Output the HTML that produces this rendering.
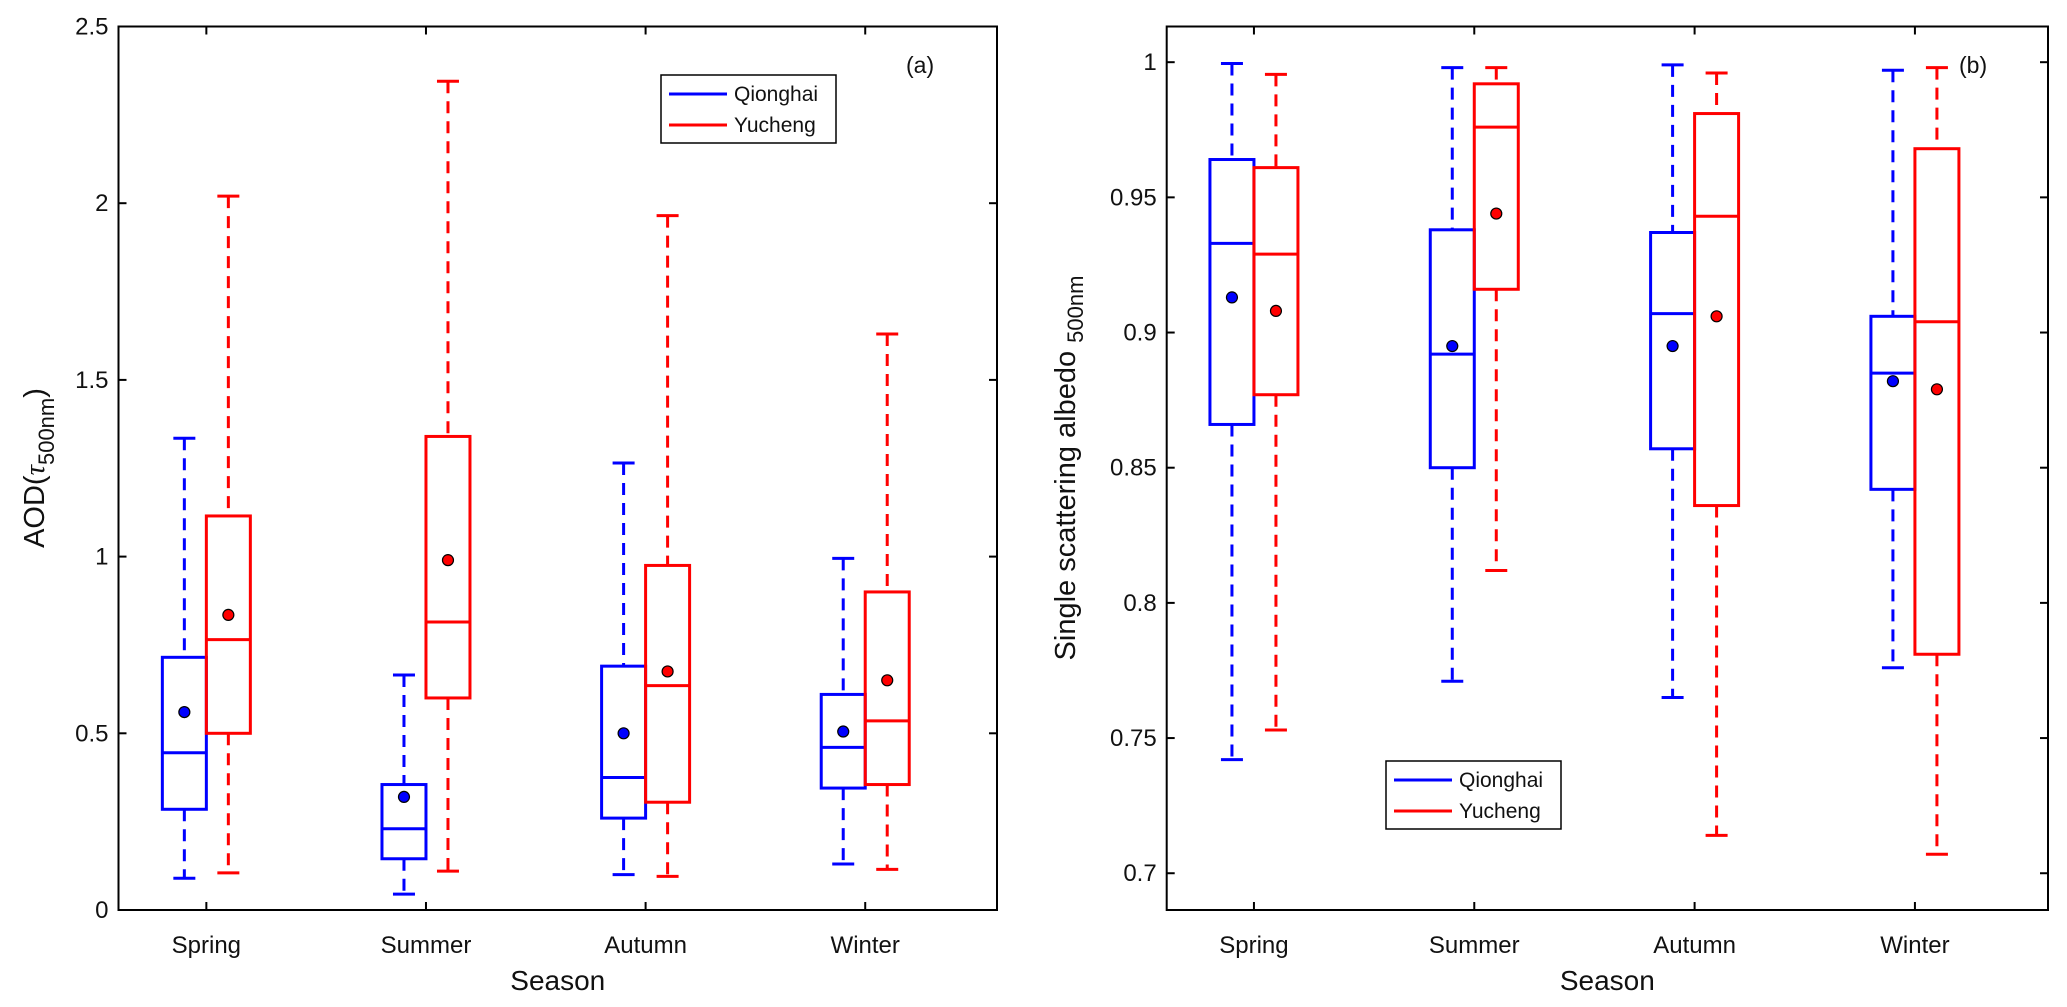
<!DOCTYPE html>
<html><head><meta charset="utf-8"><style>
html,body{margin:0;padding:0;background:#fff;}
svg{display:block;font-family:"Liberation Sans",Arial,sans-serif;}
</style></head><body>
<svg id="fig" width="2067" height="1007" viewBox="0 0 2067 1007" xmlns="http://www.w3.org/2000/svg"></svg>
<script>
const seasons = ["Spring","Summer","Autumn","Winter"];
// [lowerWhisker, q1, median, q3, upperWhisker]
const aodQionghai = [[0.09,0.285,0.445,0.715,1.335],[0.045,0.145,0.23,0.355,0.665],[0.10,0.26,0.375,0.69,1.265],[0.13,0.345,0.46,0.61,0.995]];
const aodYucheng  = [[0.105,0.50,0.765,1.115,2.02],[0.11,0.60,0.815,1.34,2.345],[0.095,0.305,0.635,0.975,1.965],[0.115,0.355,0.535,0.90,1.63]];
const aodMeanQionghai = [0.56,0.32,0.50,0.505];
const aodMeanYucheng  = [0.835,0.99,0.675,0.65];
const ssaQionghai = [[0.742,0.866,0.933,0.964,0.9995],[0.771,0.85,0.892,0.938,0.998],[0.765,0.857,0.907,0.937,0.999],[0.776,0.842,0.885,0.906,0.997]];
const ssaYucheng  = [[0.753,0.877,0.929,0.961,0.9955],[0.812,0.916,0.976,0.992,0.998],[0.714,0.836,0.943,0.981,0.996],[0.707,0.781,0.904,0.968,0.998]];
const ssaMeanQionghai = [0.913,0.895,0.895,0.882];
const ssaMeanYucheng  = [0.908,0.944,0.906,0.879];
const aodTicks = [0,0.5,1,1.5,2,2.5];
const aodTickLabels = ["0","0.5","1","1.5","2","2.5"];
const ssaTicks = [0.7,0.75,0.8,0.85,0.9,0.95,1];
const ssaTickLabels = ["0.7","0.75","0.8","0.85","0.9","0.95","1"];

const NS="http://www.w3.org/2000/svg";
const svg=document.getElementById('fig');
function mk(tag,attrs,parent){const e=document.createElementNS(NS,tag);for(const k in attrs)e.setAttribute(k,attrs[k]);(parent||svg).appendChild(e);return e;}

function panel(cfg){
  const g=mk('g',{});
  
  
  const L=cfg.left,R=cfg.right,T=26.5,B=910;
  const y=v=>B-(v-cfg.ymin)/(cfg.ymax-cfg.ymin)*(B-T);
  const x=i=>L+(1-cfg.xmin+i)*(R-L)/4;
  const series=[[cfg.q,cfg.qm,'#0000ff',-1],[cfg.yc,cfg.ym,'#ff0000',1]];
  series.forEach(([data,means,col,side],si)=>{
    data.forEach((d,i)=>{
      const cx=x(i)+side*22, x0=x(i)+(side<0?-44:0), x1=x0+44;
      const wl=mk('line',{x1:cx,x2:cx,y1:y(d[4]),y2:y(d[3]),stroke:col,'stroke-width':3,'stroke-dasharray':'12,8'},g);
      
      
      const wl2=mk('line',{x1:cx,x2:cx,y1:y(d[1]),y2:y(d[0]),stroke:col,'stroke-width':3,'stroke-dasharray':'12,8'},g);
      
      
      [d[0],d[4]].forEach(v=>{const c=mk('line',{x1:cx-11,x2:cx+11,y1:y(v),y2:y(v),stroke:col,'stroke-width':3},g);
        
        });
      const b=mk('rect',{x:x0,y:y(d[3]),width:44,height:y(d[1])-y(d[3]),fill:'none',stroke:col,'stroke-width':3},g);
      
      
      const m=mk('line',{x1:x0,x2:x1,y1:y(d[2]),y2:y(d[2]),stroke:col,'stroke-width':3},g);
      
      
      const p=mk('circle',{cx:cx,cy:y(means[i]),r:5.5,fill:col,stroke:'#000','stroke-width':1.2},g);
      
      
    });
  });
  const ax=mk('rect',{x:L,y:T,width:R-L,height:B-T,fill:'none',stroke:'#000','stroke-width':2},g);
  
  
  cfg.ticks.forEach((t,k)=>{
    mk('line',{x1:L,x2:L+8,y1:y(t),y2:y(t),stroke:'#000','stroke-width':2},g);
    mk('line',{x1:R,x2:R-8,y1:y(t),y2:y(t),stroke:'#000','stroke-width':2},g);
    const tl=mk('text',{x:L-10,y:y(t)+8,'text-anchor':'end','font-size':24,fill:'#111'},g);
    tl.textContent=cfg.labels[k];
    
    
  });
  seasons.forEach((s,i)=>{
    mk('line',{x1:x(i),x2:x(i),y1:B,y2:B-8,stroke:'#000','stroke-width':2},g);
    mk('line',{x1:x(i),x2:x(i),y1:T,y2:T+8,stroke:'#000','stroke-width':2},g);
    const tl=mk('text',{x:x(i),y:953,'text-anchor':'middle','font-size':24,fill:'#111'},g);
    tl.textContent=s;
    
    
  });
  const xt=mk('text',{x:(L+R)/2,y:990,'text-anchor':'middle','font-size':28,fill:'#111'},g);
  xt.textContent='Season';
  
  
  const pl=mk('text',{x:cfg.plx,y:73,'font-size':23,fill:'#111'},g);
  pl.textContent=cfg.panelLabel;
  
  
  const lg=mk('g',{},g);
  
  
  const lx=cfg.legX,ly=cfg.legY;
  mk('rect',{x:lx,y:ly,width:175,height:68,fill:'#fff',stroke:'#000','stroke-width':1.5},lg);
  [['Qionghai','#0000ff',19],['Yucheng','#ff0000',50]].forEach(([n,c,dy])=>{
    const e=mk('g',{},lg);
    
    
    mk('line',{x1:lx+8,x2:lx+66,y1:ly+dy,y2:ly+dy,stroke:c,'stroke-width':3},e);
    const t=mk('text',{x:lx+73,y:ly+dy+7,'font-size':21,fill:'#111'},e);
    t.textContent=n;
  });
  return g;
}
panel({name:'panel-a-aod',left:118.5,right:997,xmin:0.6,ymin:0,ymax:2.5,q:aodQionghai,yc:aodYucheng,qm:aodMeanQionghai,ym:aodMeanYucheng,ticks:aodTicks,labels:aodTickLabels,panelLabel:'(a)',plx:906,legX:661,legY:75});
panel({name:'panel-b-ssa',left:1166.7,right:2048,xmin:0.604,ymin:0.6864,ymax:1.0132,q:ssaQionghai,yc:ssaYucheng,qm:ssaMeanQionghai,ym:ssaMeanYucheng,ticks:ssaTicks,labels:ssaTickLabels,panelLabel:'(b)',plx:1959,legX:1386,legY:761});

const yt1=mk('text',{transform:'translate(44,468) rotate(-90)','text-anchor':'middle','font-size':29,fill:'#111'});


yt1.innerHTML='AOD(<tspan font-family="Liberation Serif" font-style="italic">τ</tspan><tspan dy="10" font-size="22">500nm</tspan><tspan dy="-10">)</tspan>';
const yt2=mk('text',{transform:'translate(1075,468) rotate(-90)','text-anchor':'middle','font-size':29,fill:'#111'});


yt2.innerHTML='Single scattering albedo <tspan dy="8" font-size="22">500nm</tspan>';
</script>
</body></html>
